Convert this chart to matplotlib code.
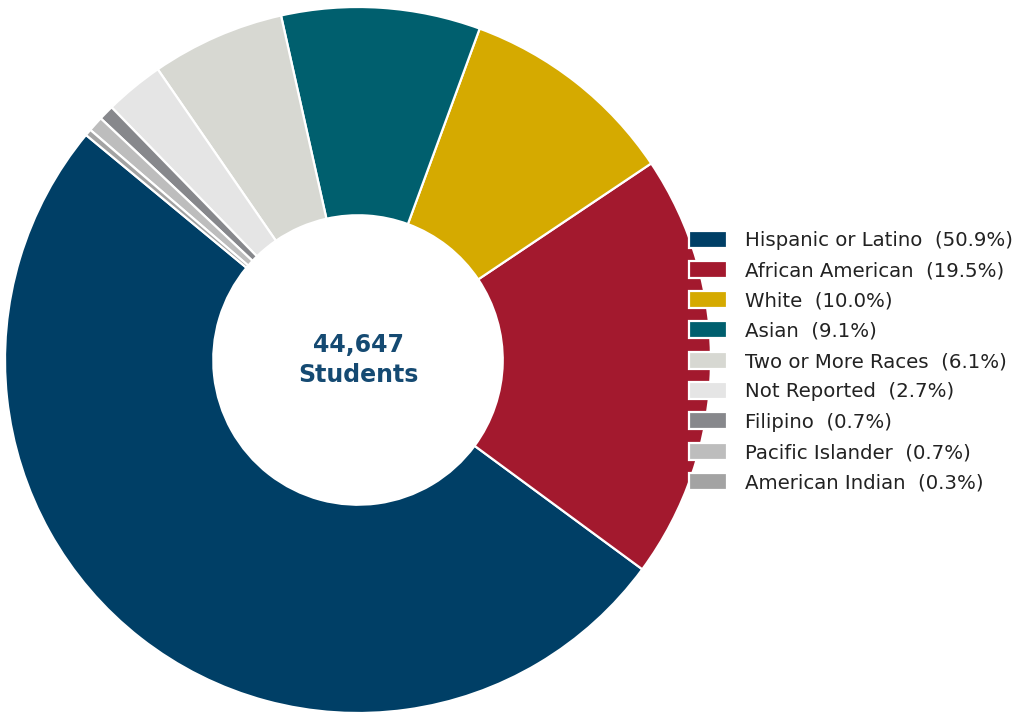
import matplotlib
matplotlib.use("Agg")
import matplotlib.pyplot as plt

plt.rcParams["font.family"] = ["DejaVu Sans"]

categories = ["Hispanic or Latino", "African American", "White", "Asian",
              "Two or More Races", "Not Reported", "Filipino",
              "Pacific Islander", "American Indian"]
percents = [50.9, 19.5, 10.0, 9.1, 6.1, 2.7, 0.7, 0.7, 0.3]
colors = ["#003f66", "#a3192e", "#d5aa00", "#005f6e", "#d7d8d2",
          "#e5e5e5", "#87888c", "#bdbdbd", "#a3a3a3"]
total_students = "44,647"

W, H = 1013, 717
fig = plt.figure(figsize=(W / 100, H / 100), dpi=100)
cx, cy, R = 358, 360, 353
ax = fig.add_axes([(cx - R) / W, (H - cy - R) / H, 2 * R / W, 2 * R / H])
wedges, _ = ax.pie(percents, colors=colors, startangle=140.4, counterclock=True,
                   radius=1.0, wedgeprops=dict(width=0.59, edgecolor="white", linewidth=1.6))
ax.set_xlim(-1, 1)
ax.set_ylim(-1, 1)
ax.set_aspect("equal")
ax.axis("off")

ax.text(0, 0, f"{total_students}\nStudents", ha="center", va="center",
        fontsize=17, fontweight="bold", color="#154a72", linespacing=1.3)

labels = [f"{c}  ({p:.1f}%)" for c, p in zip(categories, percents)]
leg = fig.legend(wedges, labels, loc="upper left",
                 bbox_to_anchor=(689 / W, 1 - 230.5 / H),
                 frameon=False, fontsize=14.2, handlelength=1.93, handleheight=0.95,
                 handletextpad=0.9, labelspacing=0.56, borderpad=0, borderaxespad=0)
for t in leg.get_texts():
    t.set_color("#222222")

fig.savefig("out.png", dpi=100)
